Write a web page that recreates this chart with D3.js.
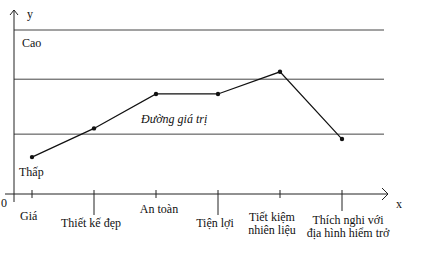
<!DOCTYPE html>
<html>
<head>
<meta charset="utf-8">
<script src="https://cdn.jsdelivr.net/npm/d3@7"></script>
<style>
body { margin: 0; background: #fff; }
text { font-family: "Liberation Serif", "Times New Roman", serif; font-size: 12px; fill: #111; }
</style>
</head>
<body>
<svg id="chart" width="435" height="264"></svg>
<script>
// criteria along the x axis (each label may be split on two lines)
var categories = [["Giá"], ["Thiết kế đẹp"], ["An toàn"], ["Tiện lợi"], ["Tiết kiệm", "nhiên liệu"], ["Thích nghi với", "địa hình hiểm trở"]];
var values = [2.25, 4.0, 6.1, 6.1, 7.45, 3.35];
var levels = [10, 7.0, 3.65];
var levelLabels = ["Cao", "Thấp"];

var svg = d3.select("#chart");
var x = d3.scaleLinear().domain([0, categories.length - 1]).range([32, 342]);
var y = d3.scaleLinear().domain([0, 10]).range([194, 30]);

//horizontal reference lines
svg.selectAll(".level").data(levels).enter().append("line")
	.attr("x1", 14).attr("x2", 384)
	.attr("y1", function(d){ return y(d); })
	.attr("y2", function(d){ return y(d); })
	.style("stroke", "#444").style("stroke-width", 1);

//axes
svg.append("line").attr("x1", 5).attr("x2", 388).attr("y1", y(0)).attr("y2", y(0))
	.style("stroke", "#222");
svg.append("path").attr("d", "M382," + (y(0) - 6) + " L388," + y(0) + " L382," + (y(0) + 6))
	.style("fill", "none").style("stroke", "#222");
svg.append("line").attr("x1", 14).attr("x2", 14).attr("y1", 202).attr("y2", 10)
	.style("stroke", "#222");
svg.append("path").attr("d", "M10,15 L14,10 L18,15")
	.style("fill", "none").style("stroke", "#222");

//ticks: long ones under the labels that sit lower
svg.selectAll(".tick").data(categories).enter().append("line")
	.attr("x1", function(d, i){ return x(i); })
	.attr("x2", function(d, i){ return x(i); })
	.attr("y1", y(0) - 4)
	.attr("y2", function(d, i){ return i % 2 ? (i == 5 ? 211 : 215) : y(0) + 4; })
	.style("stroke", "#222");

//category labels
var labelX = [28, 91, 159, 215, 272, 348];
var labelY = [220, 227, 213, 227, 221, 224];
categories.forEach(function(lines, i){
	var t = svg.append("text")
		.attr("text-anchor", i == 0 ? "start" : "middle")
		.attr("x", i == 0 ? 20 : labelX[i])
		.attr("y", labelY[i]);
	lines.forEach(function(s, j){
		t.append("tspan").attr("x", i == 0 ? 20 : labelX[i]).attr("dy", j ? 13 : 0).text(s);
	});
});

//value line
var line = d3.line().x(function(d, i){ return x(i); }).y(function(d){ return y(d); });
svg.append("path").datum(values).attr("d", line)
	.style("fill", "none").style("stroke", "#111").style("stroke-width", 1.2);
svg.selectAll(".pt").data(values).enter().append("circle")
	.attr("cx", function(d, i){ return x(i); })
	.attr("cy", function(d){ return y(d); })
	.attr("r", 2.2).style("fill", "#111");

//annotations
svg.append("text").attr("x", 22).attr("y", 47).text(levelLabels[0]);
svg.append("text").attr("x", 19).attr("y", 176).text(levelLabels[1]);
svg.append("text").attr("x", 141).attr("y", 123).style("font-style", "italic").text("Đường giá trị");
svg.append("text").attr("x", 27).attr("y", 18).text("y");
svg.append("text").attr("x", 396).attr("y", 208).text("x");
svg.append("text").attr("x", 1).attr("y", 207).text("0");
</script>
</body>
</html>
